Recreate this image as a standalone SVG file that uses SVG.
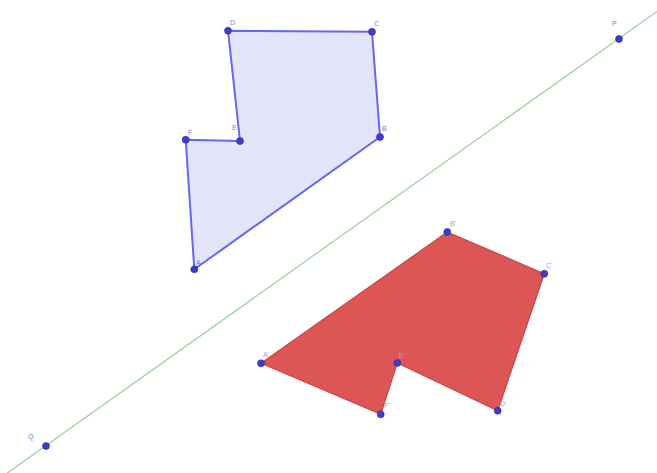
<svg xmlns="http://www.w3.org/2000/svg" width="657" height="473" viewBox="0 0 657 473">
<style>
.pt{fill:#3d3dcc;stroke:#2a2aa0;stroke-width:0.6}
.lb{font-family:"Liberation Sans",Arial,sans-serif;font-size:7px;fill:#7a7ad8}
.lbr{font-family:"Liberation Sans",Arial,sans-serif;font-size:7px;fill:#9a9ae6}
</style>
<rect width="657" height="473" fill="#ffffff"/>
<g id="connectors">
<line x1="6" y1="474" x2="657" y2="11.5" stroke="#9ed39e" stroke-width="1.3"/>
</g>
<g id="poly-original">
<polygon points="194.3,269.3 380,137 372,31.7 228,30.7 240,141 185.7,139.7" fill="#e3e3fa" stroke="#6666ee" stroke-width="2" stroke-linejoin="round"/>
</g>
<g id="poly-image">
<polygon points="261,363.3 447.3,232 544.3,273.7 497.7,410.7 397.3,363 380.7,414.3" fill="#dc5656" stroke="#cc4444" stroke-width="1.2" stroke-linejoin="round"/>
</g>
<g id="A"><circle class="pt" cx="194.3" cy="269.3" r="3.5"/><text class="lb" x="196" y="265">A</text></g>
<g id="B"><circle class="pt" cx="380" cy="137" r="3.5"/><text class="lb" x="382" y="131">B</text></g>
<g id="C"><circle class="pt" cx="372" cy="31.7" r="3.5"/><text class="lb" x="374" y="26">C</text></g>
<g id="D"><circle class="pt" cx="228" cy="30.7" r="3.5"/><text class="lb" x="230" y="25">D</text></g>
<g id="E"><circle class="pt" cx="240" cy="141" r="3.5"/><text class="lb" x="232" y="130">E</text></g>
<g id="F"><circle class="pt" cx="185.7" cy="139.7" r="3.5"/><text class="lb" x="188" y="135">F</text></g>
<g id="A1"><circle class="pt" cx="261" cy="363.3" r="3.5"/><text class="lbr" x="263" y="357">A'</text></g>
<g id="B1"><circle class="pt" cx="447.3" cy="232" r="3.5"/><text class="lbr" x="450" y="226">B'</text></g>
<g id="C1"><circle class="pt" cx="544.3" cy="273.7" r="3.5"/><text class="lbr" x="546" y="268">C'</text></g>
<g id="D1"><circle class="pt" cx="497.7" cy="410.7" r="3.5"/><text class="lbr" x="500" y="406">D'</text></g>
<g id="E1"><circle class="pt" cx="397.3" cy="363" r="3.5"/><text class="lbr" x="399" y="358">E'</text></g>
<g id="F1"><circle class="pt" cx="380.7" cy="414.3" r="3.5"/><text class="lbr" x="384" y="408">F'</text></g>
<g id="P"><circle class="pt" cx="619" cy="39" r="3.5"/><text class="lb" x="612" y="26">P</text></g>
<g id="Q"><circle class="pt" cx="46" cy="446" r="3.5"/><text class="lb" x="28" y="439">Q</text></g>
</svg>
